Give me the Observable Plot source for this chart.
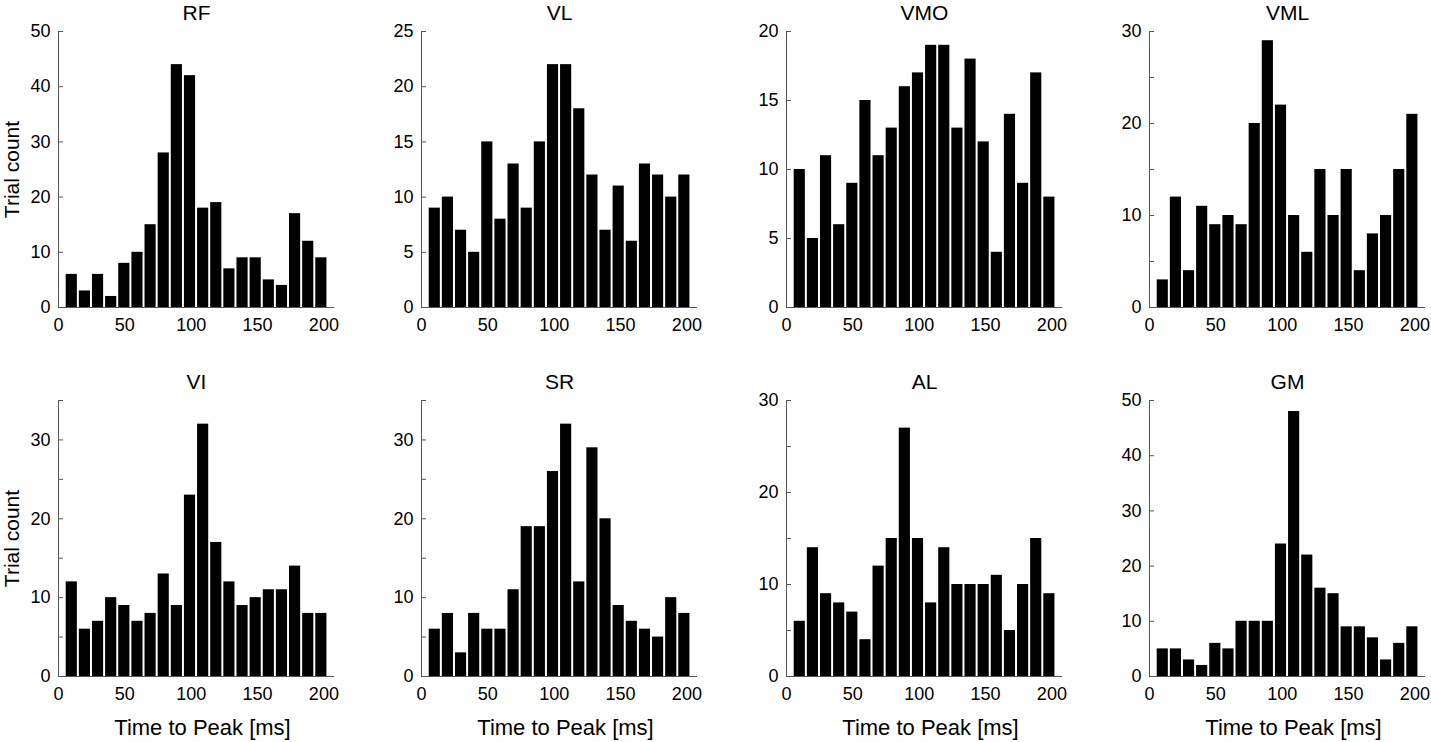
<!DOCTYPE html>
<html><head><meta charset="utf-8">
<script src="https://cdn.jsdelivr.net/npm/d3@7"></script>
<script src="https://cdn.jsdelivr.net/npm/@observablehq/plot@0.6"></script>
<style>
body{margin:0;background:#fff;overflow:hidden}
#chart{position:relative;width:1431px;height:742px;background:#fff;overflow:hidden}
#chart .panel{position:absolute}
#chart .panel svg{max-width:none !important}
</style>
</head><body><div id="chart"></div>
<script>
// ---- data ----
const muscles = ["RF", "VL", "VMO", "VML", "VI", "SR", "AL", "GM"];
const binCenters = [10, 19.9, 29.8, 39.7, 49.6, 59.5, 69.4, 79.3, 89.2, 99.1, 109, 118.9, 128.8, 138.7, 148.6, 158.5, 168.4, 178.3, 188.2, 198.1];
const RF  = [6, 3, 6, 2, 8, 10, 15, 28, 44, 42, 18, 19, 7, 9, 9, 5, 4, 17, 12, 9];
const VL  = [9, 10, 7, 5, 15, 8, 13, 9, 15, 22, 22, 18, 12, 7, 11, 6, 13, 12, 10, 12];
const VMO = [10, 5, 11, 6, 9, 15, 11, 13, 16, 17, 19, 19, 13, 18, 12, 4, 14, 9, 17, 8];
const VML = [3, 12, 4, 11, 9, 10, 9, 20, 29, 22, 10, 6, 15, 10, 15, 4, 8, 10, 15, 21];
const VI  = [12, 6, 7, 10, 9, 7, 8, 13, 9, 23, 32, 17, 12, 9, 10, 11, 11, 14, 8, 8];
const SR  = [6, 8, 3, 8, 6, 6, 11, 19, 19, 26, 32, 12, 29, 20, 9, 7, 6, 5, 10, 8];
const AL  = [6, 14, 9, 8, 7, 4, 12, 15, 27, 15, 8, 14, 10, 10, 10, 11, 5, 10, 15, 9];
const GM  = [5, 5, 3, 2, 6, 5, 10, 10, 10, 24, 48, 22, 16, 15, 9, 9, 7, 3, 6, 9];
const counts = [RF, VL, VMO, VML, VI, SR, AL, GM];

const yTicksRF  = [0, 10, 20, 30, 40, 50];
const yTicksVL  = [0, 5, 10, 15, 20, 25];
const yTicksVMO = [0, 5, 10, 15, 20];
const yTicks30  = [0, 5, 10, 15, 20, 25, 30];
const yTicks35  = [0, 5, 10, 15, 20, 25, 30, 35];
const yTicksGM  = [0, 10, 20, 30, 40, 50];
const yTicks = [yTicksRF, yTicksVL, yTicksVMO, yTicks30, yTicks35, yTicks35, yTicks30, yTicksGM];
const yLabelsRF  = [0, 10, 20, 30, 40, 50];
const yLabelsVL  = [0, 5, 10, 15, 20, 25];
const yLabelsVMO = [0, 5, 10, 15, 20];
const yLabels10  = [0, 10, 20, 30];
const yLabelsGM  = [0, 10, 20, 30, 40, 50];
const yLabels = [yLabelsRF, yLabelsVL, yLabelsVMO, yLabels10, yLabels10, yLabels10, yLabels10, yLabelsGM];
const yMax = [50, 25, 20, 30, 35, 35, 30, 50];
const xTicks = [0, 50, 100, 150, 200];
const xMax = 208;
const yTitle = "Trial count";
const xTitle = "Time to Peak [ms]";

// ---- layout ----
const colLeft = [57.5, 421, 785.5, 1148.5];
const rowTop = [31, 400];
const frame = 276;
const barHalf = 4.2;
const axisColor = "#555";
const font = "'Liberation Sans', Arial, Helvetica, sans-serif";

const chart = document.getElementById("chart");

muscles.forEach((name, i) => {
  const col = i % 4, row = Math.floor(i / 4);
  const mL = 60, mR = 12, mT = 31, mB = row === 1 ? 72 : 34;
  const W = mL + frame + mR, H = mT + frame + mB;
  const data = binCenters.map((c, j) => ({x1: c - barHalf, x2: c + barHalf, y: counts[i][j]}));
  const marks = [
    Plot.tickY(yTicks[i], {y: d => d, stroke: axisColor, insetRight: frame - 5}),
    Plot.tickX(xTicks, {x: d => d, stroke: axisColor, insetTop: frame - 5}),
    Plot.rectY(data, {x1: "x1", x2: "x2", y: "y", fill: "black"}),
    Plot.ruleX([0], {y1: 0, y2: yMax[i], stroke: axisColor}),
    Plot.ruleY([0], {x1: 0, x2: xMax, stroke: axisColor}),
    Plot.axisY({ticks: yLabels[i], tickSize: 0, tickPadding: 8, fontSize: 18, fill: "black", label: null}),
    Plot.axisX({ticks: xTicks, tickSize: 0, tickPadding: 11, fontSize: 18, fill: "black", label: null}),
    Plot.text([name], {frameAnchor: "top", dy: -18.5, fontSize: 21, lineAnchor: "middle", fill: "black"})
  ];
  if (col === 0) {
    marks.push(Plot.text([yTitle], {frameAnchor: "left", dx: -46, rotate: -90, fontSize: 21, lineAnchor: "middle", textAnchor: "middle", fill: "black"}));
  }
  if (row === 1) {
    marks.push(Plot.text([xTitle], {frameAnchor: "bottom", dy: 51, dx: 6, fontSize: 22, lineAnchor: "middle", fill: "black"}));
  }
  const svg = Plot.plot({
    width: W,
    height: H,
    marginLeft: mL, marginRight: mR, marginTop: mT, marginBottom: mB,
    style: {fontFamily: font, background: "transparent", overflow: "visible", maxWidth: "none"},
    x: {domain: [0, xMax], axis: null},
    y: {domain: [0, yMax[i]], axis: null},
    marks
  });
  svg.style.width = W + "px";
  svg.style.height = H + "px";
  const div = document.createElement("div");
  div.className = "panel";
  div.style.left = (colLeft[col] - mL) + "px";
  div.style.top = (rowTop[row] - mT) + "px";
  div.style.width = W + "px";
  div.style.height = H + "px";
  div.appendChild(svg);
  chart.appendChild(div);
});
</script>
</body></html>
